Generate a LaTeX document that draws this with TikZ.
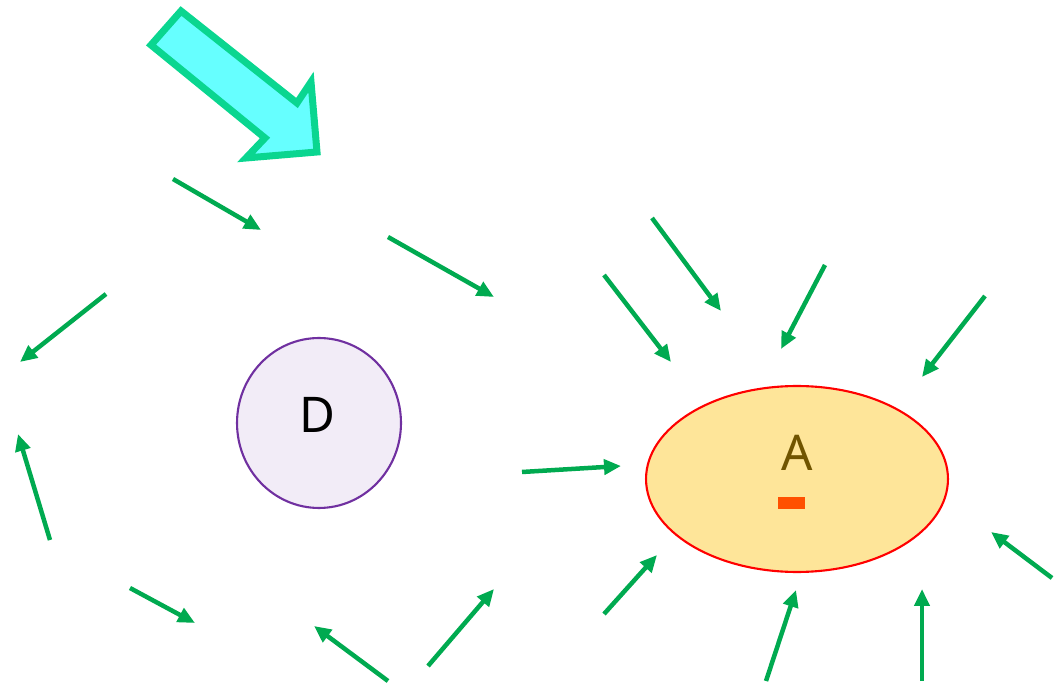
\documentclass[tikz,border=0pt]{standalone}
\usepackage{fontspec}
\setmainfont{Noto Sans}
\usetikzlibrary{arrows.meta,shapes,positioning,calc}
\definecolor{flowgreen}{RGB}{0,170,80}
\definecolor{bigfill}{RGB}{102,255,255}
\definecolor{bigedge}{RGB}{10,214,144}
\definecolor{dfill}{RGB}{242,236,247}
\definecolor{dedge}{RGB}{112,48,160}
\definecolor{afill}{RGB}{254,229,153}
\definecolor{atext}{RGB}{112,84,0}
\definecolor{amark}{RGB}{255,80,0}
\tikzset{
    flow/.style={flowgreen, line width=0.09cm, -{Triangle[length=0.34cm,width=0.3cm]}},
    bodyD/.style={ellipse, draw=dedge, fill=dfill, line width=1.2pt, minimum width=3.28cm, minimum height=3.4cm, inner sep=0pt},
    bodyA/.style={ellipse, draw=red, fill=afill, line width=1.2pt, minimum width=6.04cm, minimum height=3.72cm, inner sep=0pt},
}

\begin{document}
\begin{tikzpicture}[x=0.02cm, y=-0.02cm]
    \useasboundingbox (0,0) rectangle (1058,685);

    % 大箭头
    \draw[bigedge, fill=bigfill, line width=0.14cm, line join=miter]
        (181,11) -- (151,45) -- (265,138) -- (246,158) -- (317,152) -- (311,82) -- (297,103) -- cycle;

    % 物体 D 和 A
    \node[bodyD] (D) at (319,423) {};
    \node (Dlabel) at (317,415) {\fontsize{28}{32}\selectfont D};
    \node[bodyA] (A) at (797,479) {};
    \node[atext] (Alabel) at (797,453) {\fontsize{28}{32}\selectfont A};
    \fill[amark] (778,497) rectangle (805,509);

    % 绿色小箭头
    \foreach \i/\sx/\sy/\ex/\ey in {
        1/173/179/261/230, 2/388/237/494/297, 3/106/294/20/362,
        4/50/540/18/434, 5/130/588/195/623, 6/388/681/314/626,
        7/428/666/494/589, 8/522/472/621/466, 9/652/218/721/311,
        10/604/275/671/362, 11/825/265/781/349, 12/985/296/922/377,
        13/604/614/657/555, 14/766/681/796/590, 15/922/681/922/589,
        16/1052/578/991/532} {
        \coordinate (s\i) at (\sx,\sy);
        \coordinate (e\i) at (\ex,\ey);
        \draw[flow] (s\i) -- (e\i);
    }
\end{tikzpicture}
\end{document}
